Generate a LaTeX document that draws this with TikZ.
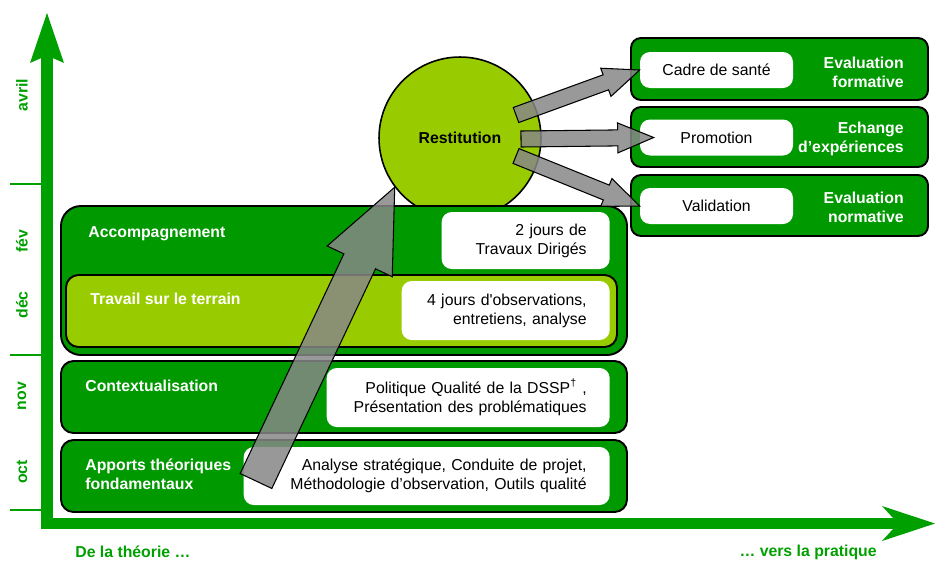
\documentclass[tikz,border=0pt]{standalone}
\usepackage{fontspec}
\setmainfont{Liberation Sans}
\usepackage{tikz}
\usetikzlibrary{arrows.meta, positioning, calc}
\definecolor{darkgreen}{RGB}{0,153,0}
\definecolor{lightgreen}{RGB}{153,204,0}
\definecolor{axisgreen}{RGB}{0,160,0}
\definecolor{arrowgray}{RGB}{135,135,135}

\newcommand{\diagfont}{\fontsize{9}{10.8}\selectfont}

% block arrow: from, to, half shaft, half head, head length
\newcommand{\blockarrow}[5]{%
    \coordinate (ba-s) at (#1);
    \coordinate (ba-e) at (#2);
    \coordinate (ba-h) at ($(ba-e)!#5!(ba-s)$);
    \draw[grayarrow] ($(ba-s)!#3!90:(ba-e)$) -- ($(ba-h)!#3!90:(ba-e)$) -- ($(ba-h)!#4!90:(ba-e)$)
        -- (ba-e) -- ($(ba-h)!#4!-90:(ba-e)$) -- ($(ba-h)!#3!-90:(ba-e)$) -- ($(ba-s)!#3!-90:(ba-e)$) -- cycle;
}

\tikzset{
    phase/.style={draw=black, line width=1.1pt, fill=darkgreen, rounded corners=0.25cm},
    field/.style={draw=black, line width=1.1pt, fill=lightgreen, rounded corners=0.25cm},
    infobox/.style={fill=white, rounded corners=0.2cm, inner xsep=0.46cm, inner ysep=0pt, align=right, anchor=east, font=\diagfont},
    outcome/.style={fill=white, rounded corners=0.2cm, inner sep=0pt, minimum width=3.06cm, minimum height=0.72cm, font=\diagfont},
    phaselabel/.style={text=white, inner sep=0pt, anchor=west, align=left, font=\bfseries\diagfont},
    month/.style={text=axisgreen, rotate=90, inner sep=0pt, font=\bfseries\diagfont},
    sidelabel/.style={text=axisgreen, inner sep=0pt, font=\bfseries\diagfont},
    axis/.style={draw=axisgreen, line width=0.23cm, line join=miter},
    monthtick/.style={draw=axisgreen, line width=1.1pt},
    grayarrow/.style={draw=black, line width=0.6pt, fill=arrowgray, fill opacity=0.85},
}

\begin{document}
\begin{tikzpicture}[x=0.02cm, y=-0.02cm]
    \useasboundingbox (0,0) rectangle (935,562);

    % Axes
    \coordinate (ytop) at (47,13);
    \coordinate (origin) at (47,523.5);
    \coordinate (xend) at (935,523.5);
    \draw[axis, {Stealth[length=1cm, width=0.68cm, inset=0.15cm, line width=0pt]}-{Stealth[length=1.06cm, width=0.7cm, inset=0.32cm, line width=0pt]}] (ytop) -- (origin) -- (xend);

    % Month ticks and labels
    \foreach \y in {184,355,510} {
        \draw[monthtick] (10,\y) -- (41,\y);
    }
    \foreach \m/\y [count=\i] in {avril/95, fév/241, déc/305, nov/396, oct/472} {
        \node[month] (month\i) at (22,\y) {\m};
    }

    \node[sidelabel, anchor=west] (theorie) at (75,552) {De la théorie …};
    \node[sidelabel, anchor=east] (pratique) at (877,552) {… vers la pratique};

    % Restitution
    \node[circle, draw=black, line width=0.9pt, fill=lightgreen, minimum size=3.24cm, font=\bfseries\diagfont] (restitution) at (460,138) {Restitution};

    % Outcomes on the right
    \draw[phase, rounded corners=0.2cm] (631,38) rectangle (928,100);
    \draw[phase, rounded corners=0.2cm] (631,107) rectangle (928,167);
    \draw[phase, rounded corners=0.2cm] (631,175) rectangle (928,236);
    \node[outcome] (cadre) at (716.5,70) {Cadre de santé};
    \node[outcome] (promotion) at (716.5,137.5) {Promotion};
    \node[outcome] (validation) at (716.5,206) {Validation};
    \node[phaselabel, anchor=east, align=right] (formative) at (904,72) {Evaluation\\formative};
    \node[phaselabel, anchor=east, align=right] (echange) at (904,139) {Echange\\d’expériences};
    \node[phaselabel, anchor=east, align=right] (normative) at (904,207) {Evaluation\\normative};

    % Phases
    \draw[phase, rounded corners=0.4cm] (61,206) rectangle (627,355);
    \draw[field] (66,275) rectangle (617,347);
    \draw[phase] (61,361) rectangle (627,433);
    \draw[phase] (61,440) rectangle (627,512);

    \node[phaselabel] (accomp) at (88,234) {Accompagnement};
    \node[phaselabel] (terrain) at (90,299) {Travail sur le terrain};
    \node[phaselabel] (context) at (85,386) {Contextualisation};
    \node[phaselabel] (apports) at (85,474) {Apports théoriques\\fondamentaux};

    \node[infobox, text width=2.44cm, minimum height=1.14cm] (td) at (610,240.5) {2 jours de\\Travaux Dirigés};
    \node[infobox, text width=3.24cm, minimum height=1.18cm] (obs) at (610,310.5) {4 jours d\textquotesingle observations,\\entretiens, analyse};
    \node[infobox, text width=4.74cm, minimum height=1.18cm] (dssp) at (610,397.5) {Politique Qualité de la DSSP\textsuperscript{†} ,\\Présentation des problématiques};
    \node[infobox, text width=6.4cm, minimum height=1.16cm] (methodes) at (610,476) {Analyse stratégique, Conduite de projet,\\Méthodologie d’observation, Outils qualité};

    % Arrows out of the restitution
    \coordinate (outA) at (516,115);
    \coordinate (outB) at (521,139);
    \coordinate (outC) at (516,156);
    \blockarrow{outA}{cadre.west}{0.16cm}{0.3cm}{0.72cm}
    \blockarrow{outB}{$(promotion.west)+(14,0)$}{0.16cm}{0.3cm}{0.72cm}
    \blockarrow{outC}{validation.west}{0.16cm}{0.3cm}{0.72cm}

    % Big arrow from theory up to the restitution
    \coordinate (apportstail) at (256,481);
    \blockarrow{apportstail}{restitution.217}{0.35cm}{0.72cm}{1.64cm}
\end{tikzpicture}
\end{document}
